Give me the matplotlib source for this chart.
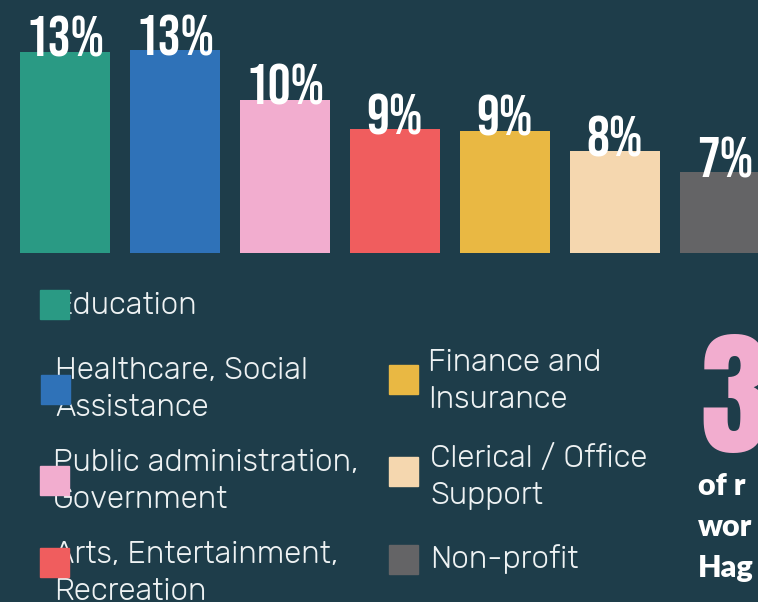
import matplotlib.pyplot as plt
from matplotlib.patches import Rectangle

# data
sectors = ['Education', 'Healthcare, Social\nAssistance', 'Public administration,\nGovernment',
           'Arts, Entertainment,\nRecreation', 'Finance and\nInsurance', 'Clerical / Office\nSupport',
           'Non-profit']
pct_labels = ['13%', '13%', '10%', '9%', '9%', '8%', '7%']
bar_len = [13.0, 13.1, 9.9, 8.0, 7.9, 6.6, 5.2]   # bar lengths as drawn in the graphic
colors = ['#2a9a84', '#2f72b8', '#f2adcf', '#f05d5e', '#e9b843', '#f5d7af', '#646466']

bg = '#1e3d4a'
W, H = 758, 602
fig = plt.figure(figsize=(W / 100, H / 100), dpi=100, facecolor=bg)

cond = ['Bebas Neue', 'Anton', 'DejaVu Sans']
heavy = ['Anton', 'DejaVu Sans']
light = ['Rubik', 'Inter', 'DejaVu Sans']
bold = ['Lato', 'DejaVu Sans']

def fx(x):
    return x / W

def fy(y):
    return 1 - y / H

# bars
k = 15.5  # px per unit
ax = fig.add_axes([0, 0, 1, 1])
ax.set_facecolor(bg)
ax.set_xlim(-65 / 110, (W - 65) / 110)
ax.set_ylim(-(H - 253) / k, 253 / k)
ax.axis('off')
xs = range(len(bar_len))
ax.bar(xs, bar_len, width=90 / 110, color=colors, zorder=2)
for x, h, lab in zip(xs, bar_len, pct_labels):
    ax.text(x, h - 0.35, lab, ha='center', va='baseline', color='white',
            fontsize=41, family=cond, zorder=3)

# legend: square (left, top) and text (left, first baseline) in pixels
sq_pos = [(40, 290), (41, 375), (40, 466), (40, 548), (389, 365), (389, 457), (389, 545)]
txt_pos = [(54, 314), (55, 379), (53, 471), (54, 563), (428, 371), (430, 467), (430, 568)]
for i, name in enumerate(sectors):
    tx, ty = txt_pos[i]
    for j, line in enumerate(name.split('\n')):
        fig.text(fx(tx), fy(ty + 37 * j), line, ha='left', va='baseline', color='#eef2f3',
                 fontsize=22.5, family=light, fontweight=300, zorder=1)
    sx, sy = sq_pos[i]
    fig.patches.append(Rectangle((fx(sx), fy(sy + 29)), 29 / W, 29 / H,
                                 transform=fig.transFigure, color=colors[i], zorder=5))

# big stat on the right (cut off by the edge)
fig.text(fx(700), fy(452), '3', ha='left', va='baseline', color='#f2adcf',
         fontsize=98, family=heavy)
for y, line in zip([495, 536, 577], ['of r', 'wor', 'Hag']):
    fig.text(fx(698), fy(y), line, ha='left', va='baseline', color='white',
             fontsize=22, fontweight='heavy', family=bold)

fig.savefig('out.png', facecolor=bg)
